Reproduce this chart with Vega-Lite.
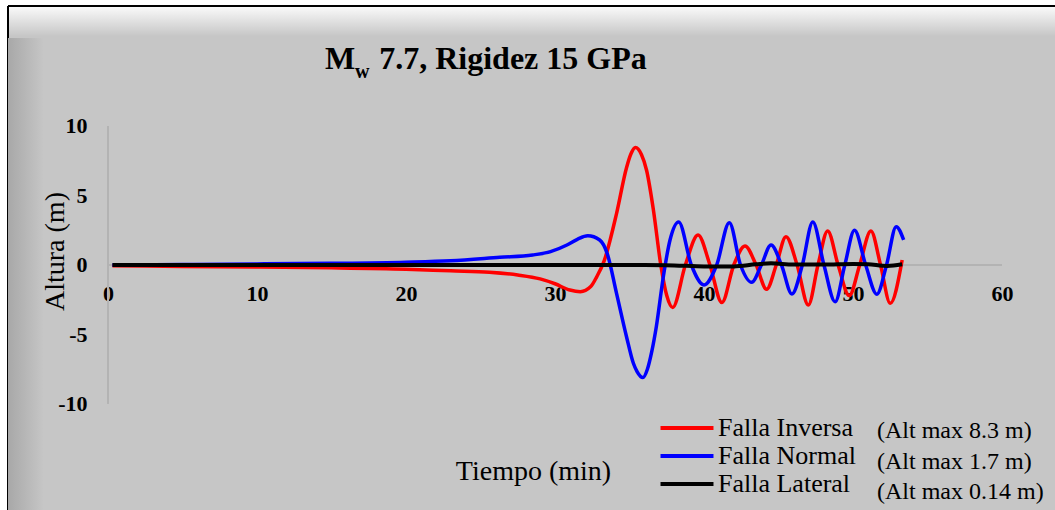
{
  "$schema": "https://vega.github.io/schema/vega-lite/v6.json",
  "autosize": {"type": "none"},
  "padding": {"left": 8, "top": 6, "right": 0, "bottom": 0},
  "width": 1047,
  "height": 504,
  "background": "white",
  "title": {
    "text": "M\u2002\u00a07.7, Rigidez 15 GPa",
    "subtitle": "\u200b\u00a0\u00a0\u00a0\u00a0\u00a0\u00a0w",
    "anchor": "start",
    "frame": "group",
    "orient": "top",
    "offset": 0,
    "dx": 317,
    "dy": 77,
    "font": "Liberation Serif",
    "fontSize": 32,
    "fontWeight": "bold",
    "color": "black",
    "subtitleFont": "Liberation Serif",
    "subtitleFontSize": 20,
    "subtitleFontWeight": "bold",
    "subtitleColor": "black",
    "subtitlePadding": -14
  },
  "data": {
    "values": [
      {"serie": "Falla Inversa", "alt": "(Alt max 8.3 m)", "t": 0.3, "h": -0.05},
      {"serie": "Falla Inversa", "alt": "(Alt max 8.3 m)", "t": 5, "h": -0.1},
      {"serie": "Falla Inversa", "alt": "(Alt max 8.3 m)", "t": 10, "h": -0.15},
      {"serie": "Falla Inversa", "alt": "(Alt max 8.3 m)", "t": 15, "h": -0.2},
      {"serie": "Falla Inversa", "alt": "(Alt max 8.3 m)", "t": 20, "h": -0.3},
      {"serie": "Falla Inversa", "alt": "(Alt max 8.3 m)", "t": 23, "h": -0.42},
      {"serie": "Falla Inversa", "alt": "(Alt max 8.3 m)", "t": 25.6, "h": -0.52},
      {"serie": "Falla Inversa", "alt": "(Alt max 8.3 m)", "t": 27.5, "h": -0.72},
      {"serie": "Falla Inversa", "alt": "(Alt max 8.3 m)", "t": 29, "h": -1.0},
      {"serie": "Falla Inversa", "alt": "(Alt max 8.3 m)", "t": 30, "h": -1.35},
      {"serie": "Falla Inversa", "alt": "(Alt max 8.3 m)", "t": 31, "h": -1.8},
      {"serie": "Falla Inversa", "alt": "(Alt max 8.3 m)", "t": 31.7, "h": -1.92},
      {"serie": "Falla Inversa", "alt": "(Alt max 8.3 m)", "t": 32.4, "h": -1.55},
      {"serie": "Falla Inversa", "alt": "(Alt max 8.3 m)", "t": 32.8, "h": -0.85},
      {"serie": "Falla Inversa", "alt": "(Alt max 8.3 m)", "t": 33.3, "h": 0.3},
      {"serie": "Falla Inversa", "alt": "(Alt max 8.3 m)", "t": 34.13, "h": 3.7},
      {"serie": "Falla Inversa", "alt": "(Alt max 8.3 m)", "t": 34.8, "h": 7.0},
      {"serie": "Falla Inversa", "alt": "(Alt max 8.3 m)", "t": 35.1, "h": 8.0},
      {"serie": "Falla Inversa", "alt": "(Alt max 8.3 m)", "t": 35.4, "h": 8.45},
      {"serie": "Falla Inversa", "alt": "(Alt max 8.3 m)", "t": 35.8, "h": 7.95},
      {"serie": "Falla Inversa", "alt": "(Alt max 8.3 m)", "t": 36.15, "h": 6.8},
      {"serie": "Falla Inversa", "alt": "(Alt max 8.3 m)", "t": 36.6, "h": 4.0},
      {"serie": "Falla Inversa", "alt": "(Alt max 8.3 m)", "t": 37.1, "h": 0},
      {"serie": "Falla Inversa", "alt": "(Alt max 8.3 m)", "t": 37.5, "h": -2.2},
      {"serie": "Falla Inversa", "alt": "(Alt max 8.3 m)", "t": 37.9, "h": -3.05},
      {"serie": "Falla Inversa", "alt": "(Alt max 8.3 m)", "t": 38.75, "h": 0},
      {"serie": "Falla Inversa", "alt": "(Alt max 8.3 m)", "t": 39.6, "h": 2.16},
      {"serie": "Falla Inversa", "alt": "(Alt max 8.3 m)", "t": 40.4, "h": 0},
      {"serie": "Falla Inversa", "alt": "(Alt max 8.3 m)", "t": 41.2, "h": -2.7},
      {"serie": "Falla Inversa", "alt": "(Alt max 8.3 m)", "t": 42.0, "h": 0},
      {"serie": "Falla Inversa", "alt": "(Alt max 8.3 m)", "t": 42.75, "h": 1.37},
      {"serie": "Falla Inversa", "alt": "(Alt max 8.3 m)", "t": 43.5, "h": 0},
      {"serie": "Falla Inversa", "alt": "(Alt max 8.3 m)", "t": 44.2, "h": -1.75},
      {"serie": "Falla Inversa", "alt": "(Alt max 8.3 m)", "t": 44.85, "h": 0},
      {"serie": "Falla Inversa", "alt": "(Alt max 8.3 m)", "t": 45.5, "h": 2.04},
      {"serie": "Falla Inversa", "alt": "(Alt max 8.3 m)", "t": 46.25, "h": 0},
      {"serie": "Falla Inversa", "alt": "(Alt max 8.3 m)", "t": 47.0, "h": -2.88},
      {"serie": "Falla Inversa", "alt": "(Alt max 8.3 m)", "t": 47.65, "h": 0},
      {"serie": "Falla Inversa", "alt": "(Alt max 8.3 m)", "t": 48.3, "h": 2.45},
      {"serie": "Falla Inversa", "alt": "(Alt max 8.3 m)", "t": 49.0, "h": 0},
      {"serie": "Falla Inversa", "alt": "(Alt max 8.3 m)", "t": 49.75, "h": -2.2},
      {"serie": "Falla Inversa", "alt": "(Alt max 8.3 m)", "t": 50.45, "h": 0},
      {"serie": "Falla Inversa", "alt": "(Alt max 8.3 m)", "t": 51.2, "h": 2.45},
      {"serie": "Falla Inversa", "alt": "(Alt max 8.3 m)", "t": 51.85, "h": 0},
      {"serie": "Falla Inversa", "alt": "(Alt max 8.3 m)", "t": 52.5, "h": -2.76},
      {"serie": "Falla Inversa", "alt": "(Alt max 8.3 m)", "t": 53.3, "h": 0.36},

      {"serie": "Falla Normal", "alt": "(Alt max 1.7 m)", "t": 0.3, "h": 0.0},
      {"serie": "Falla Normal", "alt": "(Alt max 1.7 m)", "t": 5, "h": 0.03},
      {"serie": "Falla Normal", "alt": "(Alt max 1.7 m)", "t": 10, "h": 0.08},
      {"serie": "Falla Normal", "alt": "(Alt max 1.7 m)", "t": 15, "h": 0.12},
      {"serie": "Falla Normal", "alt": "(Alt max 1.7 m)", "t": 20, "h": 0.2},
      {"serie": "Falla Normal", "alt": "(Alt max 1.7 m)", "t": 23, "h": 0.3},
      {"serie": "Falla Normal", "alt": "(Alt max 1.7 m)", "t": 26.3, "h": 0.55},
      {"serie": "Falla Normal", "alt": "(Alt max 1.7 m)", "t": 28.5, "h": 0.72},
      {"serie": "Falla Normal", "alt": "(Alt max 1.7 m)", "t": 29.7, "h": 0.96},
      {"serie": "Falla Normal", "alt": "(Alt max 1.7 m)", "t": 30.8, "h": 1.44},
      {"serie": "Falla Normal", "alt": "(Alt max 1.7 m)", "t": 31.5, "h": 1.85},
      {"serie": "Falla Normal", "alt": "(Alt max 1.7 m)", "t": 32.2, "h": 2.1},
      {"serie": "Falla Normal", "alt": "(Alt max 1.7 m)", "t": 33.0, "h": 1.8},
      {"serie": "Falla Normal", "alt": "(Alt max 1.7 m)", "t": 33.5, "h": 0.84},
      {"serie": "Falla Normal", "alt": "(Alt max 1.7 m)", "t": 34.13, "h": -2.04},
      {"serie": "Falla Normal", "alt": "(Alt max 1.7 m)", "t": 34.8, "h": -5.16},
      {"serie": "Falla Normal", "alt": "(Alt max 1.7 m)", "t": 35.26, "h": -7.07},
      {"serie": "Falla Normal", "alt": "(Alt max 1.7 m)", "t": 35.5, "h": -7.65},
      {"serie": "Falla Normal", "alt": "(Alt max 1.7 m)", "t": 35.9, "h": -8.1},
      {"serie": "Falla Normal", "alt": "(Alt max 1.7 m)", "t": 36.2, "h": -7.5},
      {"serie": "Falla Normal", "alt": "(Alt max 1.7 m)", "t": 36.5, "h": -6.2},
      {"serie": "Falla Normal", "alt": "(Alt max 1.7 m)", "t": 36.8, "h": -4.44},
      {"serie": "Falla Normal", "alt": "(Alt max 1.7 m)", "t": 37.27, "h": -0.84},
      {"serie": "Falla Normal", "alt": "(Alt max 1.7 m)", "t": 37.72, "h": 1.8},
      {"serie": "Falla Normal", "alt": "(Alt max 1.7 m)", "t": 38.3, "h": 3.1},
      {"serie": "Falla Normal", "alt": "(Alt max 1.7 m)", "t": 39.15, "h": 0},
      {"serie": "Falla Normal", "alt": "(Alt max 1.7 m)", "t": 40.0, "h": -1.44},
      {"serie": "Falla Normal", "alt": "(Alt max 1.7 m)", "t": 40.85, "h": 0},
      {"serie": "Falla Normal", "alt": "(Alt max 1.7 m)", "t": 41.7, "h": 3.04},
      {"serie": "Falla Normal", "alt": "(Alt max 1.7 m)", "t": 42.45, "h": 0},
      {"serie": "Falla Normal", "alt": "(Alt max 1.7 m)", "t": 43.2, "h": -1.25},
      {"serie": "Falla Normal", "alt": "(Alt max 1.7 m)", "t": 43.85, "h": 0},
      {"serie": "Falla Normal", "alt": "(Alt max 1.7 m)", "t": 44.5, "h": 1.44},
      {"serie": "Falla Normal", "alt": "(Alt max 1.7 m)", "t": 45.2, "h": 0},
      {"serie": "Falla Normal", "alt": "(Alt max 1.7 m)", "t": 45.9, "h": -2.09},
      {"serie": "Falla Normal", "alt": "(Alt max 1.7 m)", "t": 46.6, "h": 0},
      {"serie": "Falla Normal", "alt": "(Alt max 1.7 m)", "t": 47.3, "h": 3.1},
      {"serie": "Falla Normal", "alt": "(Alt max 1.7 m)", "t": 48.05, "h": 0},
      {"serie": "Falla Normal", "alt": "(Alt max 1.7 m)", "t": 48.8, "h": -2.64},
      {"serie": "Falla Normal", "alt": "(Alt max 1.7 m)", "t": 49.45, "h": 0},
      {"serie": "Falla Normal", "alt": "(Alt max 1.7 m)", "t": 50.1, "h": 2.5},
      {"serie": "Falla Normal", "alt": "(Alt max 1.7 m)", "t": 50.85, "h": 0},
      {"serie": "Falla Normal", "alt": "(Alt max 1.7 m)", "t": 51.6, "h": -2.1},
      {"serie": "Falla Normal", "alt": "(Alt max 1.7 m)", "t": 52.25, "h": 0},
      {"serie": "Falla Normal", "alt": "(Alt max 1.7 m)", "t": 52.9, "h": 2.76},
      {"serie": "Falla Normal", "alt": "(Alt max 1.7 m)", "t": 53.4, "h": 1.8},

      {"serie": "Falla Lateral", "alt": "(Alt max 0.14 m)", "t": 0.3, "h": 0},
      {"serie": "Falla Lateral", "alt": "(Alt max 0.14 m)", "t": 10, "h": 0},
      {"serie": "Falla Lateral", "alt": "(Alt max 0.14 m)", "t": 20, "h": 0},
      {"serie": "Falla Lateral", "alt": "(Alt max 0.14 m)", "t": 30, "h": 0},
      {"serie": "Falla Lateral", "alt": "(Alt max 0.14 m)", "t": 36, "h": 0},
      {"serie": "Falla Lateral", "alt": "(Alt max 0.14 m)", "t": 38, "h": -0.03},
      {"serie": "Falla Lateral", "alt": "(Alt max 0.14 m)", "t": 40, "h": -0.1},
      {"serie": "Falla Lateral", "alt": "(Alt max 0.14 m)", "t": 42, "h": -0.1},
      {"serie": "Falla Lateral", "alt": "(Alt max 0.14 m)", "t": 43.5, "h": 0.05},
      {"serie": "Falla Lateral", "alt": "(Alt max 0.14 m)", "t": 44.5, "h": 0.12},
      {"serie": "Falla Lateral", "alt": "(Alt max 0.14 m)", "t": 46, "h": 0.03},
      {"serie": "Falla Lateral", "alt": "(Alt max 0.14 m)", "t": 48, "h": 0.03},
      {"serie": "Falla Lateral", "alt": "(Alt max 0.14 m)", "t": 50, "h": 0.08},
      {"serie": "Falla Lateral", "alt": "(Alt max 0.14 m)", "t": 51, "h": 0.05},
      {"serie": "Falla Lateral", "alt": "(Alt max 0.14 m)", "t": 52.3, "h": -0.07},
      {"serie": "Falla Lateral", "alt": "(Alt max 0.14 m)", "t": 53.3, "h": 0.05}
    ]
  },
  "layer": [
    {
      "mark": {
        "type": "rect",
        "fill": {
          "gradient": "linear",
          "x1": 0, "y1": 0, "x2": 1, "y2": 0,
          "stops": [
            {"offset": 0, "color": "#a8a8a8"},
            {"offset": 1, "color": "#c6c6c6"}
          ]
        }
      },
      "encoding": {
        "x": {"datum": -6.711, "type": "quantitative"},
        "x2": {"datum": -4.3},
        "y": {"datum": 16.3, "type": "quantitative"},
        "y2": {"datum": -17.626}
      }
    },
    {
      "mark": {"type": "rule", "color": "#b4b4b4", "strokeWidth": 1},
      "encoding": {
        "x": {"datum": 0, "type": "quantitative"},
        "x2": {"datum": 60},
        "y": {"datum": 0, "type": "quantitative"}
      }
    },
    {
      "mark": {"type": "rule", "color": "#b4b4b4", "strokeWidth": 1},
      "encoding": {
        "x": {"datum": 0, "type": "quantitative"},
        "y": {"datum": -10, "type": "quantitative"},
        "y2": {"datum": 10}
      }
    },
    {
      "transform": [{"filter": "datum.serie === 'Falla Inversa'"}],
      "mark": {"type": "line", "strokeWidth": 3.5, "interpolate": "monotone"},
      "encoding": {
        "x": {"field": "t", "type": "quantitative"},
        "y": {"field": "h", "type": "quantitative"},
        "color": {"field": "serie", "type": "nominal"},
        "opacity": {"field": "alt", "type": "ordinal"}
      }
    },
    {
      "transform": [{"filter": "datum.serie === 'Falla Normal'"}],
      "mark": {"type": "line", "strokeWidth": 3.5, "interpolate": "monotone"},
      "encoding": {
        "x": {"field": "t", "type": "quantitative"},
        "y": {"field": "h", "type": "quantitative"},
        "color": {"field": "serie", "type": "nominal"},
        "opacity": {"field": "alt", "type": "ordinal"}
      }
    },
    {
      "transform": [{"filter": "datum.serie === 'Falla Lateral'"}],
      "mark": {"type": "line", "strokeWidth": 4, "interpolate": "monotone"},
      "encoding": {
        "x": {"field": "t", "type": "quantitative"},
        "y": {"field": "h", "type": "quantitative"},
        "color": {"field": "serie", "type": "nominal"},
        "opacity": {"field": "alt", "type": "ordinal"}
      }
    }
  ],
  "encoding": {
    "x": {
      "type": "quantitative",
      "scale": {"domain": [-6.711, 63.557], "nice": false, "zero": false},
      "axis": {
        "orient": "bottom",
        "offset": -245,
        "values": [0, 10, 20, 30, 40, 50, 60],
        "domain": false,
        "ticks": false,
        "tickSize": 0,
        "grid": false,
        "labelFont": "Liberation Serif",
        "labelFontSize": 22,
        "labelFontWeight": "bold",
        "labelColor": "black",
        "labelPadding": 18,
        "labelBaseline": "top",
        "title": "Tiempo (min)",
        "titleFont": "Liberation Serif",
        "titleFontSize": 28,
        "titleFontWeight": "normal",
        "titleColor": "black",
        "titleX": 525,
        "titleY": 214,
        "titleAlign": "center",
        "titleBaseline": "alphabetic"
      }
    },
    "y": {
      "type": "quantitative",
      "scale": {"domain": [-17.626, 18.633], "nice": false, "zero": false},
      "axis": {
        "orient": "left",
        "offset": -100,
        "values": [-10, -5, 0, 5, 10],
        "labelExpr": "replace(datum.label, '\u2212', '-')",
        "domain": false,
        "ticks": false,
        "tickSize": 0,
        "grid": false,
        "labelFont": "Liberation Serif",
        "labelFontSize": 22,
        "labelFontWeight": "bold",
        "labelColor": "black",
        "labelPadding": 21,
        "title": "Altura (m)",
        "titleFont": "Liberation Serif",
        "titleFontSize": 28,
        "titleFontWeight": "normal",
        "titleColor": "black",
        "titleX": -45,
        "titleY": 245,
        "titleAngle": -90,
        "titleAlign": "center",
        "titleBaseline": "alphabetic"
      }
    },
    "color": {
      "scale": {
        "domain": ["Falla Inversa", "Falla Normal", "Falla Lateral"],
        "range": ["#ff0000", "#0000ff", "#000000"]
      },
      "legend": {
        "orient": "none",
        "legendX": 666,
        "legendY": 409,
        "title": null,
        "padding": 0,
        "symbolType": "M-2.5,0H2.5",
        "symbolSize": 449,
        "symbolStrokeWidth": 4,
        "labelFont": "Liberation Serif",
        "labelFontSize": 26,
        "labelColor": "black",
        "labelOffset": 18,
        "rowPadding": 2,
        "labelLimit": 400
      }
    },
    "opacity": {
      "scale": {
        "domain": ["(Alt max 8.3 m)", "(Alt max 1.7 m)", "(Alt max 0.14 m)"],
        "range": [1, 1, 1]
      },
      "legend": {
        "orient": "none",
        "legendX": 845,
        "legendY": 413,
        "title": null,
        "padding": 0,
        "symbolSize": 0,
        "symbolStrokeWidth": 0,
        "symbolOpacity": 0,
        "labelFont": "Liberation Serif",
        "labelFontSize": 24,
        "labelColor": "black",
        "labelOffset": 0,
        "rowPadding": 6.5,
        "labelLimit": 400
      }
    }
  },
  "config": {
    "view": {
      "fill": {
        "gradient": "linear",
        "x1": 0, "y1": 0, "x2": 0, "y2": 1,
        "stops": [
          {"offset": 0, "color": "#fbfbfb"},
          {"offset": 0.06, "color": "#c6c6c6"},
          {"offset": 1, "color": "#c6c6c6"}
        ]
      },
      "stroke": "black",
      "strokeWidth": 2,
      "strokeDash": [1047, 1551, 504, 0]
    }
  }
}
